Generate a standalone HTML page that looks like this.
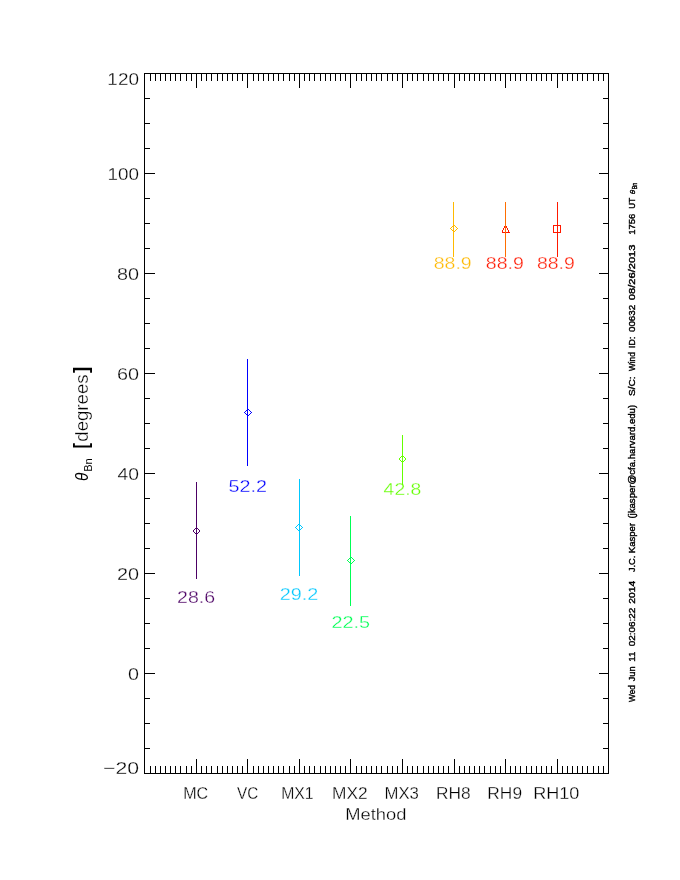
<!DOCTYPE html>
<html><head><meta charset="utf-8"><title>theta Bn by method</title>
<style>
html,body{margin:0;padding:0;background:#fff;}
svg{display:block;font-family:"Liberation Sans",sans-serif;}
svg rect{shape-rendering:crispEdges;}
svg text{stroke:#fff;stroke-width:0.3px;paint-order:fill stroke;}
#ann text{stroke:#000;stroke-width:0.4px;}
svg text.nt{stroke:none;}
</style></head><body>
<svg width="680" height="880" viewBox="0 0 680 880">
<rect x="0" y="0" width="680" height="880" fill="#fff"/>
<g id="axes">
<rect x="144" y="73" width="465" height="1" fill="#000"/>
<rect x="144" y="773" width="465" height="1" fill="#000"/>
<rect x="144" y="73" width="1" height="701" fill="#000"/>
<rect x="608" y="73" width="1" height="701" fill="#000"/>
<rect x="150" y="73" width="1" height="8" fill="#000"/>
<rect x="150" y="766" width="1" height="8" fill="#000"/>
<rect x="155" y="73" width="1" height="8" fill="#000"/>
<rect x="155" y="766" width="1" height="8" fill="#000"/>
<rect x="160" y="73" width="1" height="8" fill="#000"/>
<rect x="160" y="766" width="1" height="8" fill="#000"/>
<rect x="165" y="73" width="1" height="8" fill="#000"/>
<rect x="165" y="766" width="1" height="8" fill="#000"/>
<rect x="170" y="73" width="1" height="8" fill="#000"/>
<rect x="170" y="766" width="1" height="8" fill="#000"/>
<rect x="175" y="73" width="1" height="8" fill="#000"/>
<rect x="175" y="766" width="1" height="8" fill="#000"/>
<rect x="180" y="73" width="1" height="8" fill="#000"/>
<rect x="180" y="766" width="1" height="8" fill="#000"/>
<rect x="186" y="73" width="1" height="8" fill="#000"/>
<rect x="186" y="766" width="1" height="8" fill="#000"/>
<rect x="191" y="73" width="1" height="8" fill="#000"/>
<rect x="191" y="766" width="1" height="8" fill="#000"/>
<rect x="196" y="73" width="1" height="15" fill="#000"/>
<rect x="196" y="759" width="1" height="15" fill="#000"/>
<rect x="201" y="73" width="1" height="8" fill="#000"/>
<rect x="201" y="766" width="1" height="8" fill="#000"/>
<rect x="206" y="73" width="1" height="8" fill="#000"/>
<rect x="206" y="766" width="1" height="8" fill="#000"/>
<rect x="211" y="73" width="1" height="8" fill="#000"/>
<rect x="211" y="766" width="1" height="8" fill="#000"/>
<rect x="217" y="73" width="1" height="8" fill="#000"/>
<rect x="217" y="766" width="1" height="8" fill="#000"/>
<rect x="222" y="73" width="1" height="8" fill="#000"/>
<rect x="222" y="766" width="1" height="8" fill="#000"/>
<rect x="227" y="73" width="1" height="8" fill="#000"/>
<rect x="227" y="766" width="1" height="8" fill="#000"/>
<rect x="232" y="73" width="1" height="8" fill="#000"/>
<rect x="232" y="766" width="1" height="8" fill="#000"/>
<rect x="237" y="73" width="1" height="8" fill="#000"/>
<rect x="237" y="766" width="1" height="8" fill="#000"/>
<rect x="242" y="73" width="1" height="8" fill="#000"/>
<rect x="242" y="766" width="1" height="8" fill="#000"/>
<rect x="247" y="73" width="1" height="15" fill="#000"/>
<rect x="247" y="759" width="1" height="15" fill="#000"/>
<rect x="253" y="73" width="1" height="8" fill="#000"/>
<rect x="253" y="766" width="1" height="8" fill="#000"/>
<rect x="258" y="73" width="1" height="8" fill="#000"/>
<rect x="258" y="766" width="1" height="8" fill="#000"/>
<rect x="263" y="73" width="1" height="8" fill="#000"/>
<rect x="263" y="766" width="1" height="8" fill="#000"/>
<rect x="268" y="73" width="1" height="8" fill="#000"/>
<rect x="268" y="766" width="1" height="8" fill="#000"/>
<rect x="273" y="73" width="1" height="8" fill="#000"/>
<rect x="273" y="766" width="1" height="8" fill="#000"/>
<rect x="278" y="73" width="1" height="8" fill="#000"/>
<rect x="278" y="766" width="1" height="8" fill="#000"/>
<rect x="283" y="73" width="1" height="8" fill="#000"/>
<rect x="283" y="766" width="1" height="8" fill="#000"/>
<rect x="289" y="73" width="1" height="8" fill="#000"/>
<rect x="289" y="766" width="1" height="8" fill="#000"/>
<rect x="294" y="73" width="1" height="8" fill="#000"/>
<rect x="294" y="766" width="1" height="8" fill="#000"/>
<rect x="299" y="73" width="1" height="15" fill="#000"/>
<rect x="299" y="759" width="1" height="15" fill="#000"/>
<rect x="304" y="73" width="1" height="8" fill="#000"/>
<rect x="304" y="766" width="1" height="8" fill="#000"/>
<rect x="309" y="73" width="1" height="8" fill="#000"/>
<rect x="309" y="766" width="1" height="8" fill="#000"/>
<rect x="314" y="73" width="1" height="8" fill="#000"/>
<rect x="314" y="766" width="1" height="8" fill="#000"/>
<rect x="320" y="73" width="1" height="8" fill="#000"/>
<rect x="320" y="766" width="1" height="8" fill="#000"/>
<rect x="325" y="73" width="1" height="8" fill="#000"/>
<rect x="325" y="766" width="1" height="8" fill="#000"/>
<rect x="330" y="73" width="1" height="8" fill="#000"/>
<rect x="330" y="766" width="1" height="8" fill="#000"/>
<rect x="335" y="73" width="1" height="8" fill="#000"/>
<rect x="335" y="766" width="1" height="8" fill="#000"/>
<rect x="340" y="73" width="1" height="8" fill="#000"/>
<rect x="340" y="766" width="1" height="8" fill="#000"/>
<rect x="345" y="73" width="1" height="8" fill="#000"/>
<rect x="345" y="766" width="1" height="8" fill="#000"/>
<rect x="350" y="73" width="1" height="15" fill="#000"/>
<rect x="350" y="759" width="1" height="15" fill="#000"/>
<rect x="356" y="73" width="1" height="8" fill="#000"/>
<rect x="356" y="766" width="1" height="8" fill="#000"/>
<rect x="361" y="73" width="1" height="8" fill="#000"/>
<rect x="361" y="766" width="1" height="8" fill="#000"/>
<rect x="366" y="73" width="1" height="8" fill="#000"/>
<rect x="366" y="766" width="1" height="8" fill="#000"/>
<rect x="371" y="73" width="1" height="8" fill="#000"/>
<rect x="371" y="766" width="1" height="8" fill="#000"/>
<rect x="376" y="73" width="1" height="8" fill="#000"/>
<rect x="376" y="766" width="1" height="8" fill="#000"/>
<rect x="381" y="73" width="1" height="8" fill="#000"/>
<rect x="381" y="766" width="1" height="8" fill="#000"/>
<rect x="387" y="73" width="1" height="8" fill="#000"/>
<rect x="387" y="766" width="1" height="8" fill="#000"/>
<rect x="392" y="73" width="1" height="8" fill="#000"/>
<rect x="392" y="766" width="1" height="8" fill="#000"/>
<rect x="397" y="73" width="1" height="8" fill="#000"/>
<rect x="397" y="766" width="1" height="8" fill="#000"/>
<rect x="402" y="73" width="1" height="15" fill="#000"/>
<rect x="402" y="759" width="1" height="15" fill="#000"/>
<rect x="407" y="73" width="1" height="8" fill="#000"/>
<rect x="407" y="766" width="1" height="8" fill="#000"/>
<rect x="412" y="73" width="1" height="8" fill="#000"/>
<rect x="412" y="766" width="1" height="8" fill="#000"/>
<rect x="417" y="73" width="1" height="8" fill="#000"/>
<rect x="417" y="766" width="1" height="8" fill="#000"/>
<rect x="423" y="73" width="1" height="8" fill="#000"/>
<rect x="423" y="766" width="1" height="8" fill="#000"/>
<rect x="428" y="73" width="1" height="8" fill="#000"/>
<rect x="428" y="766" width="1" height="8" fill="#000"/>
<rect x="433" y="73" width="1" height="8" fill="#000"/>
<rect x="433" y="766" width="1" height="8" fill="#000"/>
<rect x="438" y="73" width="1" height="8" fill="#000"/>
<rect x="438" y="766" width="1" height="8" fill="#000"/>
<rect x="443" y="73" width="1" height="8" fill="#000"/>
<rect x="443" y="766" width="1" height="8" fill="#000"/>
<rect x="448" y="73" width="1" height="8" fill="#000"/>
<rect x="448" y="766" width="1" height="8" fill="#000"/>
<rect x="454" y="73" width="1" height="15" fill="#000"/>
<rect x="454" y="759" width="1" height="15" fill="#000"/>
<rect x="459" y="73" width="1" height="8" fill="#000"/>
<rect x="459" y="766" width="1" height="8" fill="#000"/>
<rect x="464" y="73" width="1" height="8" fill="#000"/>
<rect x="464" y="766" width="1" height="8" fill="#000"/>
<rect x="469" y="73" width="1" height="8" fill="#000"/>
<rect x="469" y="766" width="1" height="8" fill="#000"/>
<rect x="474" y="73" width="1" height="8" fill="#000"/>
<rect x="474" y="766" width="1" height="8" fill="#000"/>
<rect x="479" y="73" width="1" height="8" fill="#000"/>
<rect x="479" y="766" width="1" height="8" fill="#000"/>
<rect x="484" y="73" width="1" height="8" fill="#000"/>
<rect x="484" y="766" width="1" height="8" fill="#000"/>
<rect x="490" y="73" width="1" height="8" fill="#000"/>
<rect x="490" y="766" width="1" height="8" fill="#000"/>
<rect x="495" y="73" width="1" height="8" fill="#000"/>
<rect x="495" y="766" width="1" height="8" fill="#000"/>
<rect x="500" y="73" width="1" height="8" fill="#000"/>
<rect x="500" y="766" width="1" height="8" fill="#000"/>
<rect x="505" y="73" width="1" height="15" fill="#000"/>
<rect x="505" y="759" width="1" height="15" fill="#000"/>
<rect x="510" y="73" width="1" height="8" fill="#000"/>
<rect x="510" y="766" width="1" height="8" fill="#000"/>
<rect x="515" y="73" width="1" height="8" fill="#000"/>
<rect x="515" y="766" width="1" height="8" fill="#000"/>
<rect x="520" y="73" width="1" height="8" fill="#000"/>
<rect x="520" y="766" width="1" height="8" fill="#000"/>
<rect x="526" y="73" width="1" height="8" fill="#000"/>
<rect x="526" y="766" width="1" height="8" fill="#000"/>
<rect x="531" y="73" width="1" height="8" fill="#000"/>
<rect x="531" y="766" width="1" height="8" fill="#000"/>
<rect x="536" y="73" width="1" height="8" fill="#000"/>
<rect x="536" y="766" width="1" height="8" fill="#000"/>
<rect x="541" y="73" width="1" height="8" fill="#000"/>
<rect x="541" y="766" width="1" height="8" fill="#000"/>
<rect x="546" y="73" width="1" height="8" fill="#000"/>
<rect x="546" y="766" width="1" height="8" fill="#000"/>
<rect x="551" y="73" width="1" height="8" fill="#000"/>
<rect x="551" y="766" width="1" height="8" fill="#000"/>
<rect x="557" y="73" width="1" height="15" fill="#000"/>
<rect x="557" y="759" width="1" height="15" fill="#000"/>
<rect x="562" y="73" width="1" height="8" fill="#000"/>
<rect x="562" y="766" width="1" height="8" fill="#000"/>
<rect x="567" y="73" width="1" height="8" fill="#000"/>
<rect x="567" y="766" width="1" height="8" fill="#000"/>
<rect x="572" y="73" width="1" height="8" fill="#000"/>
<rect x="572" y="766" width="1" height="8" fill="#000"/>
<rect x="577" y="73" width="1" height="8" fill="#000"/>
<rect x="577" y="766" width="1" height="8" fill="#000"/>
<rect x="582" y="73" width="1" height="8" fill="#000"/>
<rect x="582" y="766" width="1" height="8" fill="#000"/>
<rect x="587" y="73" width="1" height="8" fill="#000"/>
<rect x="587" y="766" width="1" height="8" fill="#000"/>
<rect x="593" y="73" width="1" height="8" fill="#000"/>
<rect x="593" y="766" width="1" height="8" fill="#000"/>
<rect x="598" y="73" width="1" height="8" fill="#000"/>
<rect x="598" y="766" width="1" height="8" fill="#000"/>
<rect x="603" y="73" width="1" height="8" fill="#000"/>
<rect x="603" y="766" width="1" height="8" fill="#000"/>
<rect x="144" y="98" width="6" height="1" fill="#000"/>
<rect x="603" y="98" width="6" height="1" fill="#000"/>
<rect x="144" y="123" width="6" height="1" fill="#000"/>
<rect x="603" y="123" width="6" height="1" fill="#000"/>
<rect x="144" y="148" width="6" height="1" fill="#000"/>
<rect x="603" y="148" width="6" height="1" fill="#000"/>
<rect x="144" y="173" width="11" height="1" fill="#000"/>
<rect x="599" y="173" width="10" height="1" fill="#000"/>
<rect x="144" y="198" width="6" height="1" fill="#000"/>
<rect x="603" y="198" width="6" height="1" fill="#000"/>
<rect x="144" y="223" width="6" height="1" fill="#000"/>
<rect x="603" y="223" width="6" height="1" fill="#000"/>
<rect x="144" y="248" width="6" height="1" fill="#000"/>
<rect x="603" y="248" width="6" height="1" fill="#000"/>
<rect x="144" y="273" width="11" height="1" fill="#000"/>
<rect x="599" y="273" width="10" height="1" fill="#000"/>
<rect x="144" y="298" width="6" height="1" fill="#000"/>
<rect x="603" y="298" width="6" height="1" fill="#000"/>
<rect x="144" y="323" width="6" height="1" fill="#000"/>
<rect x="603" y="323" width="6" height="1" fill="#000"/>
<rect x="144" y="348" width="6" height="1" fill="#000"/>
<rect x="603" y="348" width="6" height="1" fill="#000"/>
<rect x="144" y="373" width="11" height="1" fill="#000"/>
<rect x="599" y="373" width="10" height="1" fill="#000"/>
<rect x="144" y="398" width="6" height="1" fill="#000"/>
<rect x="603" y="398" width="6" height="1" fill="#000"/>
<rect x="144" y="423" width="6" height="1" fill="#000"/>
<rect x="603" y="423" width="6" height="1" fill="#000"/>
<rect x="144" y="448" width="6" height="1" fill="#000"/>
<rect x="603" y="448" width="6" height="1" fill="#000"/>
<rect x="144" y="473" width="11" height="1" fill="#000"/>
<rect x="599" y="473" width="10" height="1" fill="#000"/>
<rect x="144" y="498" width="6" height="1" fill="#000"/>
<rect x="603" y="498" width="6" height="1" fill="#000"/>
<rect x="144" y="523" width="6" height="1" fill="#000"/>
<rect x="603" y="523" width="6" height="1" fill="#000"/>
<rect x="144" y="548" width="6" height="1" fill="#000"/>
<rect x="603" y="548" width="6" height="1" fill="#000"/>
<rect x="144" y="573" width="11" height="1" fill="#000"/>
<rect x="599" y="573" width="10" height="1" fill="#000"/>
<rect x="144" y="598" width="6" height="1" fill="#000"/>
<rect x="603" y="598" width="6" height="1" fill="#000"/>
<rect x="144" y="623" width="6" height="1" fill="#000"/>
<rect x="603" y="623" width="6" height="1" fill="#000"/>
<rect x="144" y="648" width="6" height="1" fill="#000"/>
<rect x="603" y="648" width="6" height="1" fill="#000"/>
<rect x="144" y="673" width="11" height="1" fill="#000"/>
<rect x="599" y="673" width="10" height="1" fill="#000"/>
<rect x="144" y="698" width="6" height="1" fill="#000"/>
<rect x="603" y="698" width="6" height="1" fill="#000"/>
<rect x="144" y="723" width="6" height="1" fill="#000"/>
<rect x="603" y="723" width="6" height="1" fill="#000"/>
<rect x="144" y="748" width="6" height="1" fill="#000"/>
<rect x="603" y="748" width="6" height="1" fill="#000"/>
</g>
<g id="lab">
<text transform="translate(107.35,84.76) scale(1.0826,0.975)" font-size="17.5">120</text>
<text transform="translate(107.45,179.76) scale(1.0789,0.975)" font-size="17.5">100</text>
<text transform="translate(116.95,279.76) scale(1.1333,0.975)" font-size="17.5">80</text>
<text transform="translate(116.95,379.76) scale(1.1333,0.975)" font-size="17.5">60</text>
<text transform="translate(117.52,479.76) scale(1.1027,0.975)" font-size="17.5">40</text>
<text transform="translate(116.95,579.76) scale(1.1333,0.975)" font-size="17.5">20</text>
<text transform="translate(128.05,679.76) scale(1.1273,0.975)" font-size="17.5">0</text>
<text transform="translate(102.99,773.76) scale(1.2142,0.975)" font-size="17.5">−20</text>
<text transform="translate(183.22,798.56) scale(0.9200,0.975)" font-size="17.5">MC</text>
<text transform="translate(237.00,798.56) scale(0.8723,0.975)" font-size="17.5">VC</text>
<text transform="translate(281.14,798.80) scale(0.9037,0.975)" font-size="17.5">MX1</text>
<text transform="translate(332.12,798.80) scale(0.9896,0.975)" font-size="17.5">MX2</text>
<text transform="translate(384.46,798.56) scale(0.9570,0.975)" font-size="17.5">MX3</text>
<text transform="translate(436.12,798.56) scale(0.9893,0.975)" font-size="17.5">RH8</text>
<text transform="translate(487.31,798.56) scale(0.9924,0.975)" font-size="17.5">RH9</text>
<text transform="translate(533.15,798.56) scale(1.0353,0.975)" font-size="17.5">RH10</text>
<text transform="translate(345.23,820.36) scale(1.0493,0.975)" font-size="17.5">Method</text>
</g>
<g id="val">
<text transform="translate(177.06,602.76) scale(1.1169,0.975)" font-size="17.5" fill="#4c0064">28.6</text>
<text transform="translate(228.45,491.96) scale(1.1292,0.975)" font-size="17.5" fill="#0000ff">52.2</text>
<text transform="translate(279.75,599.96) scale(1.1354,0.975)" font-size="17.5" fill="#00c8ff">29.2</text>
<text transform="translate(331.55,627.76) scale(1.1323,0.975)" font-size="17.5" fill="#00ff55">22.5</text>
<text transform="translate(383.62,494.76) scale(1.1061,0.975)" font-size="17.5" fill="#64ff00">42.8</text>
<text transform="translate(433.76,268.66) scale(1.1138,0.975)" font-size="17.5" fill="#ffb900">88.9</text>
<text transform="translate(485.86,268.66) scale(1.1169,0.975)" font-size="17.5" fill="#ff1800">88.9</text>
<text transform="translate(536.96,268.66) scale(1.1138,0.975)" font-size="17.5" fill="#ff1900">88.9</text>
</g>
<g id="ytitle">
<text transform="translate(88.10,481.01) rotate(-90) scale(0.8111,1.000)" font-size="18.8" font-style="italic" class="nt">θ</text>
<text transform="translate(92.10,471.83) rotate(-90) scale(0.9333,1.000)" font-size="11.8" class="nt">Bn</text>
<text transform="translate(87.86,448.62) rotate(-90) scale(0.8182,0.975)" font-size="20" font-weight="bold" class="nt">[</text>
<text transform="translate(88.00,441.74) rotate(-90) scale(0.9925,1.000)" font-size="18.8">degrees</text>
<text transform="translate(87.86,373.03) rotate(-90) scale(0.9333,0.975)" font-size="20" font-weight="bold" class="nt">]</text>
</g>
<g id="ann">
<text transform="translate(635.10,701.90) rotate(-90) scale(0.8822,0.975)" font-size="9.3">Wed</text>
<text transform="translate(635.10,681.25) rotate(-90) scale(0.9895,0.975)" font-size="9.3">Jun</text>
<text transform="translate(635.10,661.67) rotate(-90) scale(1.0235,0.975)" font-size="9.3">11</text>
<text transform="translate(635.10,646.37) rotate(-90) scale(1.0676,0.975)" font-size="9.3">02:06:22</text>
<text transform="translate(635.10,603.65) rotate(-90) scale(1.1000,0.975)" font-size="9.3">2014</text>
<text transform="translate(635.10,572.05) rotate(-90) scale(0.9871,0.975)" font-size="9.3">J.C.</text>
<text transform="translate(635.10,553.17) rotate(-90) scale(1.0246,0.975)" font-size="9.3">Kasper</text>
<text transform="translate(635.10,518.62) rotate(-90) scale(1.0334,0.975)" font-size="9.3">(jkasper@cfa.harvard.edu)</text>
<text transform="translate(635.10,396.04) rotate(-90) scale(1.0866,0.975)" font-size="9.3">S/C:</text>
<text transform="translate(635.10,371.00) rotate(-90) scale(0.8878,0.975)" font-size="9.3">Wind</text>
<text transform="translate(635.10,347.91) rotate(-90) scale(0.9463,0.975)" font-size="9.3">ID:</text>
<text transform="translate(635.10,332.06) rotate(-90) scale(1.0574,0.975)" font-size="9.3">00632</text>
<text transform="translate(635.10,300.20) rotate(-90) scale(1.1978,0.975)" font-size="9.3">08/26/2013</text>
<text transform="translate(635.10,234.77) rotate(-90) scale(1.0205,0.975)" font-size="9.3">1756</text>
<text transform="translate(635.10,208.65) rotate(-90) scale(0.8696,0.975)" font-size="9.3">UT</text>
<text transform="translate(635.10,194.16) rotate(-90) scale(1.0250,0.975)" font-size="8.0" font-style="italic" class="nt">θ</text>
<text transform="translate(637.10,189.21) rotate(-90) scale(0.8138,0.975)" font-size="6.6">Bn</text>
</g>
<g id="data">
<path d="M195 528h3v1h-3zM194 529h1v1h-1zM198 529h1v1h-1zM193 530h1v2h-1zM199 530h1v2h-1zM194 532h1v1h-1zM198 532h1v1h-1zM195 533h3v1h-3z" fill="#4c0064" shape-rendering="crispEdges"/>
<path d="M247 409h2v1h-2zM246 410h1v1h-1zM249 410h1v1h-1zM245 411h1v1h-1zM250 411h1v1h-1zM244 412h1v1h-1zM251 412h1v1h-1zM245 413h1v1h-1zM250 413h1v1h-1zM246 414h1v1h-1zM249 414h1v1h-1zM247 415h2v1h-2z" fill="#0000ff" shape-rendering="crispEdges"/>
<path d="M298 524h2v1h-2zM297 525h1v1h-1zM300 525h1v1h-1zM296 526h1v1h-1zM301 526h1v1h-1zM295 527h1v1h-1zM302 527h1v1h-1zM296 528h1v1h-1zM301 528h1v1h-1zM297 529h1v1h-1zM300 529h1v1h-1zM298 530h2v1h-2z" fill="#00c8ff" shape-rendering="crispEdges"/>
<path d="M350 557h2v1h-2zM349 558h1v1h-1zM352 558h1v1h-1zM348 559h1v1h-1zM353 559h1v1h-1zM347 560h1v1h-1zM354 560h1v1h-1zM348 561h1v1h-1zM353 561h1v1h-1zM349 562h1v1h-1zM352 562h1v1h-1zM350 563h2v1h-2z" fill="#00ff55" shape-rendering="crispEdges"/>
<path d="M401 456h3v1h-3zM400 457h1v1h-1zM404 457h1v1h-1zM399 458h1v2h-1zM405 458h1v2h-1zM400 460h1v1h-1zM404 460h1v1h-1zM401 461h3v1h-3z" fill="#64ff00" shape-rendering="crispEdges"/>
<path d="M453 225h2v1h-2zM452 226h1v1h-1zM455 226h1v1h-1zM451 227h1v1h-1zM456 227h1v1h-1zM450 228h1v1h-1zM457 228h1v1h-1zM451 229h1v1h-1zM456 229h1v1h-1zM452 230h1v1h-1zM455 230h1v1h-1zM453 231h2v1h-2z" fill="#ffb900" shape-rendering="crispEdges"/>
<path d="M504 226h3v1h-3zM504 227h1v1h-1zM506 227h1v1h-1zM503 228h1v2h-1zM507 228h1v2h-1zM502 230h1v2h-1zM508 230h1v2h-1zM502 232h8v1h-8z" fill="#ff1800" shape-rendering="crispEdges"/>
<path d="M553 225h8v1h-8zM553 232h8v1h-8zM553 226h1v6h-1zM560 226h1v6h-1z" fill="#ff1900" shape-rendering="crispEdges"/>
<rect x="196" y="482" width="1" height="97" fill="#4c0064"/>
<rect x="247" y="359" width="1" height="107" fill="#0000ff"/>
<rect x="299" y="479" width="1" height="97" fill="#00c8ff"/>
<rect x="350" y="516" width="1" height="90" fill="#00ff55"/>
<rect x="402" y="435" width="1" height="49" fill="#64ff00"/>
<rect x="453" y="202" width="1" height="55" fill="#ffb900"/>
<rect x="505" y="202" width="1" height="55" fill="#ff6e00"/>
<rect x="557" y="202" width="1" height="55" fill="#ff1900"/>
</g>
</svg>
</body></html>
